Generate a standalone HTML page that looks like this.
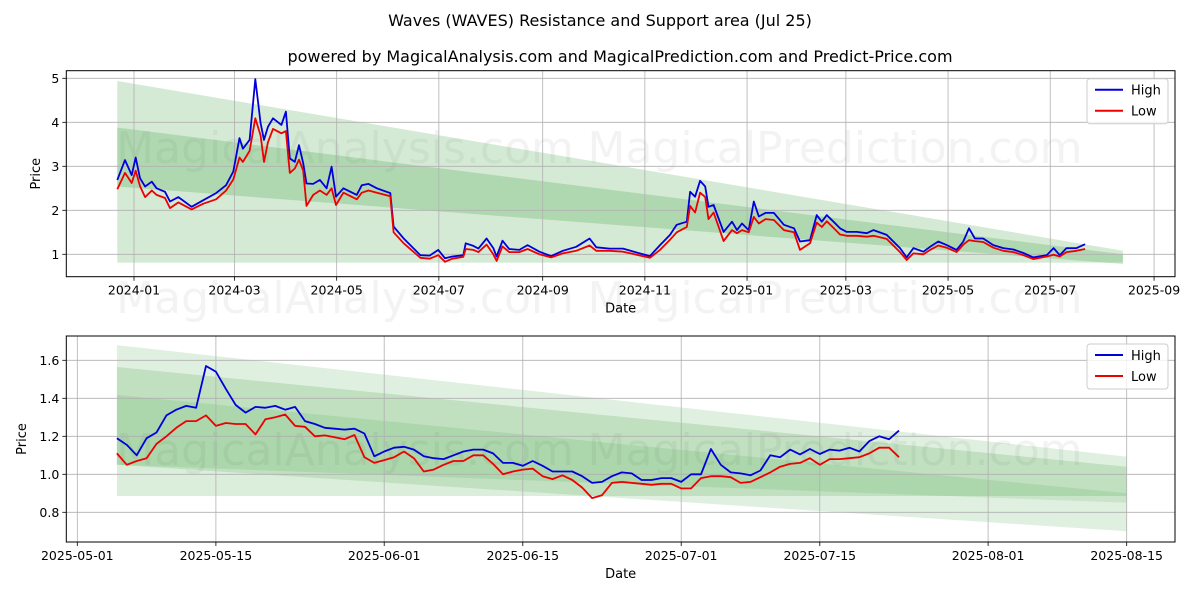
<!DOCTYPE html>
<html><head><meta charset="utf-8"><style>
html,body{margin:0;padding:0;background:#fff;}
svg{display:block;font-family:"DejaVu Sans","Liberation Sans",sans-serif;}
</style></head><body>
<svg id="chart" width="1200" height="600" viewBox="0 0 1200 600">
<text x="600" y="26" text-anchor="middle" font-size="16" fill="#000">Waves (WAVES) Resistance and Support area (Jul 25)</text>
<text x="620" y="62" text-anchor="middle" font-size="16" fill="#000">powered by MagicalAnalysis.com and MagicalPrediction.com and Predict-Price.com</text>
<g id="top"></g>
<g id="bot"></g>
</svg>
<script>
// ---- top chart data (day offsets from 2024-01-01) ----
const topDays=[-10,-5.4,-1.4,1,3.6,6.6,10.6,13.5,18.5,21.5,26.5,34.4,41.4,49,55,59.3,63,65,69,72.4,75.6,77.6,80,83,88,90.7,93,96,98.5,101,103,107,111,115,118,120.6,125,133,136,140,145,153,155,161,171,176.5,181.7,185.7,190,196.6,198,202.6,205.6,210.5,214.5,216.5,220,224,230,235,242,249,256,264,272,276,284,292,300,308,314,320,324,330,332,335,338,341,343,346,352,357,360,363,367,370,373,377,382,388,394,397.6,403.6,407.6,410.6,413.6,417.6,421.5,425.5,431.5,437.5,441.5,449.4,457.3,461.3,465.3,471.3,475.3,480.2,485.2,491.1,495.1,498.5,502,507,513,519,525,531,536.9,544.9,549,552.7,556.7,562.7,567.8];
const topHigh=[2.69,3.14,2.80,3.2,2.73,2.54,2.65,2.5,2.42,2.2,2.3,2.08,2.23,2.39,2.57,2.88,3.64,3.4,3.6,4.98,3.98,3.6,3.9,4.09,3.94,4.24,3.18,3.1,3.48,3.07,2.61,2.6,2.69,2.5,2.99,2.31,2.5,2.35,2.57,2.6,2.5,2.39,1.63,1.36,0.98,0.97,1.1,0.91,0.95,0.98,1.25,1.19,1.13,1.36,1.14,0.95,1.31,1.12,1.1,1.21,1.06,0.96,1.08,1.17,1.36,1.16,1.13,1.13,1.04,0.96,1.21,1.44,1.67,1.74,2.42,2.31,2.67,2.54,2.08,2.12,1.51,1.74,1.55,1.70,1.55,2.2,1.86,1.94,1.94,1.67,1.59,1.29,1.32,1.89,1.74,1.89,1.74,1.59,1.51,1.51,1.48,1.55,1.44,1.14,0.93,1.14,1.06,1.17,1.29,1.21,1.1,1.29,1.59,1.36,1.36,1.21,1.14,1.11,1.03,0.93,0.98,1.14,0.98,1.14,1.14,1.23];
const topLow=[2.48,2.85,2.62,2.9,2.55,2.3,2.45,2.35,2.28,2.05,2.18,2.02,2.15,2.25,2.45,2.7,3.2,3.1,3.35,4.09,3.7,3.1,3.55,3.85,3.75,3.8,2.85,2.95,3.15,2.9,2.1,2.35,2.45,2.35,2.5,2.12,2.4,2.25,2.4,2.45,2.4,2.32,1.5,1.25,0.92,0.9,0.98,0.83,0.9,0.94,1.12,1.1,1.05,1.22,1.0,0.85,1.18,1.05,1.05,1.12,1.0,0.93,1.02,1.08,1.2,1.08,1.08,1.06,0.99,0.92,1.1,1.33,1.5,1.62,2.1,1.95,2.4,2.3,1.8,1.95,1.3,1.55,1.48,1.55,1.5,1.85,1.7,1.8,1.78,1.55,1.5,1.1,1.25,1.72,1.62,1.75,1.6,1.45,1.42,1.42,1.4,1.42,1.35,1.05,0.87,1.02,1.0,1.1,1.2,1.15,1.05,1.22,1.32,1.3,1.28,1.15,1.08,1.05,0.98,0.89,0.95,0.99,0.95,1.05,1.08,1.12];
const topTicksY=[1,2,3,4,5];
const topTickLabelsX=["2024-01","2024-03","2024-05","2024-07","2024-09","2024-11","2025-01","2025-03","2025-05","2025-07","2025-09"];
const topTickDaysX=[0,60,121,182,244,305,366,425,486,547,609];
const topBandDays=[-10,590.4];
const topBand1Top=[4.94,1.08], topBand1Bot=[2.54,0.78];
const topBand2Top=[3.88,1.0], topBand2Bot=[0.81,0.81];

// ---- bottom chart data (daily from 2025-05-05; day offsets from 2025-05-01) ----
const botStartDay=4;
const botHigh=[1.19,1.155,1.10,1.19,1.22,1.31,1.34,1.36,1.35,1.57,1.54,1.45,1.365,1.325,1.355,1.35,1.36,1.34,1.355,1.28,1.265,1.245,1.24,1.235,1.24,1.215,1.095,
1.12,1.14,1.145,1.13,1.095,1.085,1.08,1.10,1.12,1.13,1.13,1.11,1.06,1.06,1.045,1.07,1.045,1.015,1.015,1.015,0.99,0.955,0.96,0.99,1.01,1.005,0.97,0.97,0.98,0.98,
0.96,1.0,1.0,1.133,1.05,1.01,1.005,0.995,1.02,1.10,1.09,1.13,1.105,1.133,1.107,1.13,1.125,1.14,1.12,1.175,1.20,1.185,1.23];
const botLow=[1.11,1.05,1.07,1.085,1.16,1.20,1.245,1.28,1.28,1.31,1.255,1.27,1.265,1.265,1.21,1.29,1.30,1.315,1.255,1.25,1.20,1.205,1.195,1.185,1.207,1.09,1.06,
1.075,1.09,1.12,1.085,1.015,1.025,1.05,1.07,1.07,1.10,1.10,1.055,1.00,1.015,1.025,1.03,0.99,0.975,0.995,0.97,0.93,0.875,0.89,0.955,0.96,0.955,0.95,0.945,0.95,0.95,
0.926,0.926,0.98,0.99,0.99,0.985,0.955,0.96,0.985,1.01,1.04,1.055,1.06,1.085,1.05,1.08,1.08,1.085,1.09,1.11,1.14,1.14,1.09];
const botTicksY=[0.8,1.0,1.2,1.4,1.6];
const botTickLabelsX=["2025-05-01","2025-05-15","2025-06-01","2025-06-15","2025-07-01","2025-07-15","2025-08-01","2025-08-15"];
const botTickDaysX=[0,14,31,45,61,75,92,106];
const botBandDays=[4,106];
const botBand1Top=[1.68,1.093], botBand1Bot=[1.05,0.70];
const botBand2Top=[1.565,1.04], botBand2Bot=[0.886,0.886];
const botBand3Top=[1.418,0.9], botBand3Bot=[1.05,0.85];

const NS="http://www.w3.org/2000/svg";
function mk(tag,attrs,parent){const e=document.createElementNS(NS,tag);for(const k in attrs)e.setAttribute(k,attrs[k]);parent.appendChild(e);return e;}

function panel(g,cfg){
  const {L,R,T,B,xs,ys}=cfg;
  cfg.wm.forEach(w=>{const t=mk('text',{x:w[0],y:w[1],'font-size':44,fill:'rgba(120,120,120,0.09)','text-anchor':'middle'},g);t.textContent=w[2];
    
    });
  cfg.bands.forEach(b=>{
    const d=cfg.bandDays;
    const pts=[[xs(d[0]),ys(b.top[0])],[xs(d[1]),ys(b.top[1])],[xs(d[1]),ys(b.bot[1])],[xs(d[0]),ys(b.bot[0])]];
    const p=mk('polygon',{points:pts.map(p=>p.join(',')).join(' '),fill:'rgb(0,128,0)','fill-opacity':b.op},g);
    
    
  });
  cfg.xTickDays.forEach((d,i)=>{const x=xs(d);
    const l=mk('line',{x1:x,x2:x,y1:T,y2:B,stroke:'#b0b0b0','stroke-width':0.8},g);
    
    
    mk('line',{x1:x,x2:x,y1:B,y2:B+4,stroke:'#000','stroke-width':0.8},g);
    const t=mk('text',{x:x,y:B+18,'font-size':12.5,'text-anchor':'middle',fill:'#000'},g);t.textContent=cfg.xTickLabels[i];
    
    });
  cfg.yTicks.forEach(v=>{const y=ys(v);
    const l=mk('line',{x1:L,x2:R,y1:y,y2:y,stroke:'#b0b0b0','stroke-width':0.8},g);
    
    
    mk('line',{x1:L-4,x2:L,y1:y,y2:y,stroke:'#000','stroke-width':0.8},g);
    const t=mk('text',{x:L-7,y:y+4.5,'font-size':12.5,'text-anchor':'end',fill:'#000'},g);t.textContent=cfg.yFmt(v);
    
    });
  const hp=cfg.days.map((d,i)=>xs(d).toFixed(1)+','+ys(cfg.high[i]).toFixed(1)).join(' ');
  const lp=cfg.days.map((d,i)=>xs(d).toFixed(1)+','+ys(cfg.low[i]).toFixed(1)).join(' ');
  const hl=mk('polyline',{points:hp,fill:'none',stroke:'#0000dd','stroke-width':1.8,'stroke-linejoin':'round'},g);
  
  
  const ll=mk('polyline',{points:lp,fill:'none',stroke:'#ee0000','stroke-width':1.8,'stroke-linejoin':'round'},g);
  
  
  const fr=mk('rect',{x:L,y:T,width:R-L,height:B-T,fill:'none',stroke:'#000','stroke-width':1},g);
  
  
  const xt=mk('text',{x:(L+R)/2,y:B+36,'font-size':13,'text-anchor':'middle'},g);xt.textContent='Date';
  
  
  const yt=mk('text',{x:0,y:0,'font-size':13,'text-anchor':'middle',transform:`translate(${cfg.yTitleX},${(T+B)/2}) rotate(-90)`},g);yt.textContent='Price';
  
  
  const lx=R-88, ly=T+8;
  const lg=mk('g',{},g);
  
  
  mk('rect',{x:lx,y:ly,width:81,height:45,rx:3,fill:'#fff','fill-opacity':0.8,stroke:'#ccc'},lg);
  mk('line',{x1:lx+8,x2:lx+36,y1:ly+11,y2:ly+11,stroke:'#0000dd','stroke-width':2},lg);
  const t1=mk('text',{x:lx+44,y:ly+16,'font-size':13},lg);t1.textContent='High';
  
  
  mk('line',{x1:lx+8,x2:lx+36,y1:ly+32,y2:ly+32,stroke:'#ee0000','stroke-width':2},lg);
  const t2=mk('text',{x:lx+44,y:ly+37,'font-size':13},lg);t2.textContent='Low';
  
  
}

(function(){
  const L=66.3,R=1175,T=70.7,B=276.7;
  const xs=d=>134+d*1.675, ys=v=>254.3-(v-1)*44;
  panel(document.getElementById('top'),{L,R,T,B,xs,ys,days:topDays,high:topHigh,low:topLow,
    xTickDays:topTickDaysX,xTickLabels:topTickLabelsX,yTicks:topTicksY,yFmt:v=>String(v),yTitleX:40,
    bandDays:topBandDays,
    bands:[{top:topBand1Top,bot:topBand1Bot,op:0.17},{top:topBand2Top,bot:topBand2Bot,op:0.17}],
    wm:[[345,163,'MagicalAnalysis.com'],[835,163,'MagicalPrediction.com'],[345,313,'MagicalAnalysis.com'],[835,313,'MagicalPrediction.com']]});
})();
(function(){
  const L=66.3,R=1175,T=336,B=542;
  const xs=d=>77.3+d*9.9, ys=v=>360.3-(v-1.6)*190;
  const days=botHigh.map((_,i)=>botStartDay+i);
  panel(document.getElementById('bot'),{L,R,T,B,xs,ys,days:days,high:botHigh,low:botLow,
    xTickDays:botTickDaysX,xTickLabels:botTickLabelsX,yTicks:botTicksY,yFmt:v=>v.toFixed(1),yTitleX:26,
    bandDays:botBandDays,
    bands:[{top:botBand1Top,bot:botBand1Bot,op:0.12},{top:botBand2Top,bot:botBand2Bot,op:0.14},{top:botBand3Top,bot:botBand3Bot,op:0.1}],
    wm:[[345,465,'MagicalAnalysis.com'],[835,465,'MagicalPrediction.com']]});
})();
</script>
</body></html>
